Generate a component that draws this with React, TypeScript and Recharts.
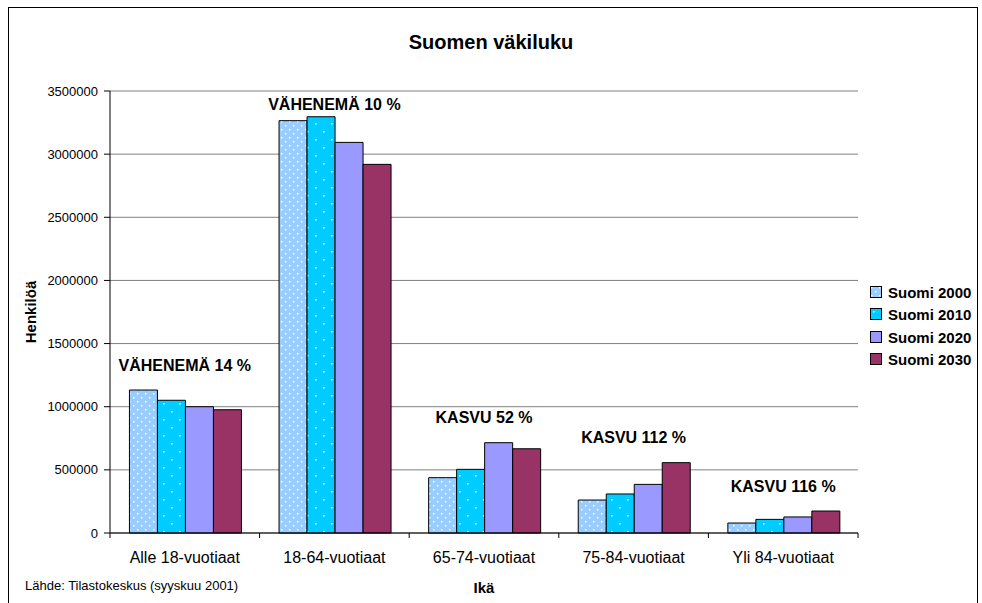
import React from "react";
import {
  Bar,
  BarChart,
  CartesianGrid,
  Legend,
  ReferenceDot,
  XAxis,
  YAxis,
} from "recharts";

const ageGroups = [
  "Alle 18-vuotiaat",
  "18-64-vuotiaat",
  "65-74-vuotiaat",
  "75-84-vuotiaat",
  "Yli 84-vuotiaat",
];

const suomi2000 = [1132000, 3265000, 438000, 261000, 79000];
const suomi2010 = [1051000, 3296000, 504000, 309000, 108000];
const suomi2020 = [1000000, 3093000, 715000, 385000, 127000];
const suomi2030 = [976000, 2919000, 667000, 557000, 174000];

const changeLabels = [
  "VÄHENEMÄ 14 %",
  "VÄHENEMÄ 10 %",
  "KASVU 52 %",
  "KASVU 112 %",
  "KASVU 116 %",
];

const yTicks = [0, 500000, 1000000, 1500000, 2000000, 2500000, 3000000, 3500000];

const series = [
  { key: "s2000", name: "Suomi 2000", fill: "url(#dots2000)" },
  { key: "s2010", name: "Suomi 2010", fill: "url(#dots2010)" },
  { key: "s2020", name: "Suomi 2020", fill: "#9999FF" },
  { key: "s2030", name: "Suomi 2030", fill: "#993366" },
];

const data = ageGroups.map((name, i) => ({
  name,
  s2000: suomi2000[i],
  s2010: suomi2010[i],
  s2020: suomi2020[i],
  s2030: suomi2030[i],
}));

const FONT = "Arial, 'Liberation Sans', sans-serif";
const W = 982;
const H = 603;
const PLOT_LEFT = 110;
const PLOT_RIGHT = 858;
const PLOT_TOP = 91;

const XTick = (props: any) => {
  const { x, y, payload, index, visibleTicksCount } = props;
  const half =
    payload && payload.offset
      ? payload.offset
      : (PLOT_RIGHT - PLOT_LEFT) / ageGroups.length / 2;
  return (
    <g>
      <line x1={x - half} x2={x - half} y1={y} y2={y + 5} stroke="#000" />
      {index === visibleTicksCount - 1 && (
        <line x1={x + half} x2={x + half} y1={y} y2={y + 5} stroke="#000" />
      )}
      <text
        x={x}
        y={y + 30}
        textAnchor="middle"
        fontSize={16}
        fontFamily={FONT}
        fill="#000"
      >
        {payload.value}
      </text>
    </g>
  );
};

const annotation = (text: string) => (props: any) => {
  const vb = props.viewBox || {};
  const cx = vb.x + (vb.width || 0) / 2;
  const top = vb.y + (vb.height || 0) / 2;
  const y = Math.max(top - 25, PLOT_TOP + 13);
  return (
    <text
      x={cx}
      y={y}
      textAnchor="middle"
      dominantBaseline="central"
      fontSize={16}
      fontWeight="bold"
      fontFamily={FONT}
      fill="#000"
    >
      {text}
    </text>
  );
};

const renderLegend = () => (
  <div style={{ fontFamily: FONT, fontWeight: "bold", fontSize: 15, paddingLeft: 12 }}>
    {series.map((s) => (
      <div
        key={s.key}
        style={{ display: "flex", alignItems: "center", height: 22.5, color: "#000" }}
      >
        <svg width={13} height={13} style={{ marginRight: 5 }}>
          <rect x={0.5} y={0.5} width={11} height={11} fill={s.fill} stroke="#000" />
        </svg>
        <span>{s.name}</span>
      </div>
    ))}
  </div>
);

export default function App() {
  return (
    <div
      style={{
        position: "absolute",
        left: 0,
        top: 0,
        width: W,
        height: H,
        overflow: "hidden",
        background: "#fff",
      }}
    >
      <svg width={0} height={0} style={{ position: "absolute" }}>
        <defs>
          <pattern id="dots2000" width={8} height={8} patternUnits="userSpaceOnUse">
            <rect width={8} height={8} fill="#99CCFF" />
            <rect x={1} y={1} width={1.5} height={1.5} fill="#fff" />
            <rect x={5} y={5} width={1.5} height={1.5} fill="#fff" />
          </pattern>
          <pattern id="dots2010" width={16} height={16} patternUnits="userSpaceOnUse">
            <rect width={16} height={16} fill="#00CCFF" />
            <rect x={3} y={3} width={1.5} height={1.5} fill="#fff" />
            <rect x={11} y={11} width={1.5} height={1.5} fill="#fff" />
          </pattern>
        </defs>
      </svg>
      <div
        style={{
          position: "absolute",
          left: 8,
          top: 7,
          width: 970,
          height: 700,
          border: "1px solid #000",
          boxSizing: "border-box",
        }}
      />
      <div
        style={{
          position: "absolute",
          left: 0,
          width: W,
          top: 31,
          textAlign: "center",
          fontFamily: FONT,
          fontWeight: "bold",
          fontSize: 20,
          lineHeight: "22px",
        }}
      >
        Suomen väkiluku
      </div>
      <div
        style={{
          position: "absolute",
          left: 25,
          top: 578,
          fontFamily: FONT,
          fontSize: 13,
          lineHeight: "16px",
        }}
      >
        Lähde: Tilastokeskus (syyskuu 2001)
      </div>
      <div style={{ position: "absolute", left: 0, top: 0 }}>
        <BarChart
          width={W}
          height={H}
          data={data}
          margin={{ top: PLOT_TOP, right: 0, bottom: 0, left: 0 }}
          barGap={0}
          barCategoryGap="13%"
        >
          <CartesianGrid vertical={false} stroke="#808080" />
          <XAxis
            dataKey="name"
            height={70}
            tickLine={false}
            tickSize={0}
            tickMargin={0}
            axisLine={{ stroke: "#000" }}
            tick={<XTick />}
            interval={0}
            label={{
              value: "Ikä",
              position: "insideBottom",
              offset: 10,
              fontFamily: FONT,
              fontWeight: "bold",
              fontSize: 15,
              fill: "#000",
            }}
          />
          <YAxis
            width={PLOT_LEFT}
            domain={[0, 3500000]}
            ticks={yTicks}
            interval={0}
            tickSize={6}
            tickMargin={6}
            tickFormatter={(v) => String(v)}
            tick={{ fontSize: 13, fontFamily: FONT, fill: "#000" }}
            axisLine={{ stroke: "#000" }}
            tickLine={{ stroke: "#000" }}
            label={{
              content: (p: any) => {
                const vb = p.viewBox || {};
                const cx = 30;
                const cy = vb.y + vb.height / 2;
                return (
                  <text
                    x={cx}
                    y={cy}
                    transform={`rotate(-90 ${cx} ${cy})`}
                    textAnchor="middle"
                    dominantBaseline="central"
                    fontFamily={FONT}
                    fontWeight="bold"
                    fontSize={15}
                    fill="#000"
                  >
                    Henkilöä
                  </text>
                );
              },
            }}
          />
          <YAxis
            yAxisId="right"
            orientation="right"
            width={0}
            tick={false}
            tickLine={false}
            axisLine={{ stroke: "#808080" }}
          />
          <Legend
            layout="vertical"
            align="right"
            verticalAlign="middle"
            width={W - PLOT_RIGHT}
            wrapperStyle={{ top: 281 }}
            content={renderLegend}
          />
          {series.map((s) => (
            <Bar
              key={s.key}
              dataKey={s.key}
              name={s.name}
              fill={s.fill}
              stroke="#000"
              strokeWidth={1}
              isAnimationActive={false}
            />
          ))}
          {ageGroups.map((g, i) => (
            <ReferenceDot
              key={g}
              x={g}
              y={Math.max(suomi2000[i], suomi2010[i], suomi2020[i], suomi2030[i])}
              r={0}
              fill="none"
              stroke="none"
              label={{ content: annotation(changeLabels[i]) }}
            />
          ))}
        </BarChart>
      </div>
    </div>
  );
}
